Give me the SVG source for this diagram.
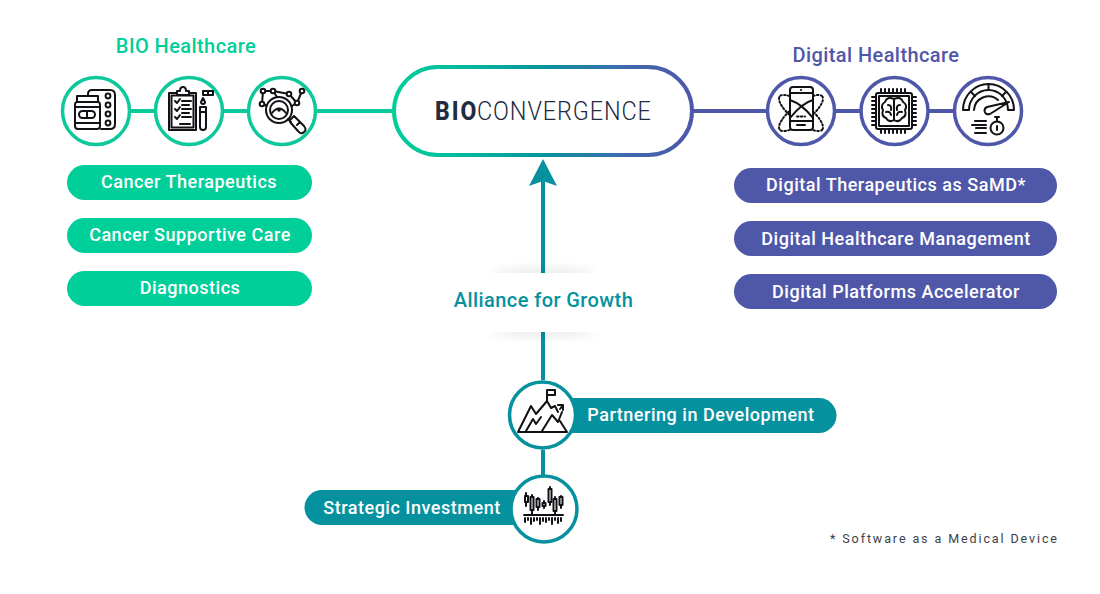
<svg xmlns="http://www.w3.org/2000/svg" width="1100" height="594" viewBox="0 0 1100 594">
<style>
.t{font-family:Roboto,"Liberation Sans",sans-serif;font-weight:500;text-anchor:middle}
.w{fill:#fff;font-size:18px;letter-spacing:.52px}
.h{font-size:20px;letter-spacing:.42px}
.ring{fill:#fff;stroke-width:3.500}
.g{stroke:#0cc89a}.p{stroke:#4f57a9}.c{stroke:#06919f}
.pg{fill:#00cf99}.pp{fill:#4f57a9}.pc{fill:#06919f}
.i{fill:none;stroke:#111116;stroke-width:2;stroke-linecap:round;stroke-linejoin:round}
.f{fill:#fff}
.d{stroke-dasharray:1.600 2.200}
.b{fill:#111116;stroke:none}
</style>
<defs>
<linearGradient id="grad" x1="394" y1="0" x2="692" y2="0" gradientUnits="userSpaceOnUse"><stop offset="0" stop-color="#00cf99"/><stop offset=".22" stop-color="#03bb9c"/><stop offset=".5" stop-color="#07949f"/><stop offset=".75" stop-color="#3a6dac"/><stop offset="1" stop-color="#4f57a9"/></linearGradient>
<filter id="blur" x="-20%" y="-60%" width="140%" height="220%"><feGaussianBlur stdDeviation="6"/></filter>
</defs>

<g id="connectors" fill="none" stroke-width="4">
<path class="g" d="M130 111H155M223 111H248M316 111H394"/>
<path class="p" d="M692 111H767M835 111H860M928 111H954"/>
<path class="c" d="M543 380V178M543 450V476"/>
<polygon points="543,159 557,186 543,181 529,186" fill="#06919f" stroke="none"/>
</g>

<g id="center">
<rect x="394" y="67" width="298" height="88" rx="44" fill="#fff" stroke="url(#grad)" stroke-width="4"/>
<text transform="translate(435 120) scale(.9 1)" font-family="Roboto,sans-serif" font-size="25.500" font-weight="800" fill="#232b3e" textLength="46" lengthAdjust="spacing">BIO</text>
<text transform="translate(477 120) scale(.92 1)" font-family="Roboto,sans-serif" font-size="25.500" font-weight="300" fill="#232b3e" textLength="189" lengthAdjust="spacing">CONVERGENCE</text>
</g>

<g id="bio-title"><text class="t h" x="186" y="53" fill="#00cf99">BIO Healthcare</text></g>
<g id="digital-title"><text class="t h" x="876" y="62" fill="#4f57a9">Digital Healthcare</text></g>

<g id="bio-icon-1">
<circle class="ring g" cx="96" cy="111" r="33.500"/>
<path class="i" d="M88 96V94Q88 90 92 90H110Q115 90 115 95V124Q115 129 110 129H101"/>
<path class="i f" d="M77 96H98V102H77ZM75 105Q75 102 77 102H98Q100 102 100 105V126Q100 129 97 129H78Q75 129 75 126ZM75 107H100M75 123H100"/>
<rect class="i" x="79" y="111" width="16" height="7" rx="3.500"/><path class="i" d="M87 111V118"/>
<circle class="i" cx="108" cy="96" r="2.400"/><circle class="i" cx="108" cy="105" r="2.400"/><circle class="i" cx="108" cy="114" r="2.400"/><circle class="i" cx="108" cy="123" r="2.400"/>
</g>

<g id="bio-icon-2">
<circle class="ring g" cx="189" cy="111" r="33.500"/>
<path class="i" d="M169 93H196V130H169Z"/><path class="i" d="M171.500 95.500H193.500V127.500H171.500Z" stroke-width="1.200"/>
<path class="i f" d="M177 95V91H180Q180 87 183 87Q186 87 186 91H189V95Z"/>
<path class="i" d="M175 101L177 103L180 99M175 109L177 111L180 107M175 117L177 119L180 115M182 101H191M182 105H189M182 109H191M182 113H189M182 117H191M180 124H190" stroke-width="1.600"/>
<path class="i" d="M200 107H206V127Q206 130 203 130Q200 130 200 127ZM201 112H205M203 98L205 102Q205 104 203 104Q201 104 201 102ZM203 91H213V95H203ZM208 91V95"/>
</g>

<g id="bio-icon-3">
<circle class="ring g" cx="282" cy="111" r="33.500"/>
<path class="i" d="M263 91H273L289 94L297 103L302 91M263 91L262 104L270 107M273 91L277 97M297 103L292 106"/>
<circle class="i f" cx="279" cy="110" r="13" stroke-width="2.200"/><circle class="i" cx="279" cy="110" r="9"/>
<path class="i" d="M272 113Q279 104 286 113" />
<circle cx="279" cy="110" r="1.800" class="b"/>
<circle class="i f" cx="263" cy="91" r="2.300"/><circle class="i f" cx="273" cy="91" r="2.300"/><circle class="i f" cx="289" cy="94" r="2.300"/><circle class="i f" cx="302" cy="91" r="2.300"/><circle class="i f" cx="262" cy="104" r="2.300"/><circle class="i f" cx="297" cy="103" r="2.300"/>
<path class="i" d="M288 119L291 122M290 120L294 116L304 126Q307 130 304 132Q301 135 298 131L290 122ZM297 125L300 122"/>
</g>

<g id="digital-icon-1">
<circle class="ring p" cx="801" cy="111" r="33.500"/>
<ellipse class="i d" cx="801" cy="113" rx="27" ry="9" transform="rotate(-38 801 113)"/>
<ellipse class="i d" cx="801" cy="113" rx="27" ry="9" transform="rotate(38 801 113)"/>
<rect class="i f" x="790" y="87" width="23" height="43" rx="3"/>
<path class="i" d="M790 121H813M797 125H805M790 100Q802 104 813 118M813 100Q802 103 790 118M790 93H813" stroke-width="1.500"/>
<circle class="b" cx="801" cy="90" r="1.100"/>
<path class="i d" d="M797 116.500H805" stroke-width="2"/>
</g>

<g id="digital-icon-2">
<circle class="ring p" cx="894.500" cy="111" r="33.500"/>
<rect class="i" x="876" y="93" width="36" height="36" rx="2" />
<rect class="i" x="879" y="96" width="30" height="30" stroke-width="1.500"/>
<path class="i" d="M881 89V92M885 89V92M889 89V92M893 89V92M897 89V92M901 89V92M905 89V92M881 130V133M885 130V133M889 130V133M893 130V133M897 130V133M901 130V133M905 130V133M872 97H875M872 101H875M872 105H875M872 109H875M872 113H875M872 117H875M872 121H875M872 125H875M913 97H916M913 101H916M913 105H916M913 109H916M913 113H916M913 117H916M913 121H916M913 125H916" stroke-width="1.600"/>
<path class="i" d="M894 99Q887 96 885 102Q880 105 883 110Q881 116 886 118Q889 123 894 120Q899 123 902 118Q907 116 905 110Q908 105 903 102Q901 96 894 99ZM894 99V120M888 105Q892 105 891 110M900 105Q896 105 897 110M886 112Q890 111 891 115M902 112Q898 111 897 115" stroke-width="1.300"/>
</g>

<g id="digital-icon-3">
<circle class="ring p" cx="988" cy="111" r="33.500"/>
<path class="i" d="M963 110A25.500 26 0 0 1 1014 110H1008A19.500 20 0 0 0 969 110Z"/>
<path class="i" d="M974 110A14.500 14.500 0 0 1 998 100"/>
<path class="i" d="M988.500 84V90M971 92L975 96M1006 92L1002 96"/>
<path class="i f" d="M987 107L1009 102L990 114Q985 115 984.500 111Q984.500 108 987 107Z"/>
<circle class="i" cx="997" cy="128" r="6.500" stroke-width="2.300"/>
<path class="i" d="M995 117H999M997 117V121M997 126V130"/>
<path class="i" d="M975 121H986M972 125H986M976 128H986M975 133H986" stroke-width="1.600"/>
</g>

<g id="cancer-therapeutics"><rect class="pg" x="67" y="165" width="245" height="35" rx="17.500"/><text class="t w" x="189" y="188">Cancer Therapeutics</text></g>
<g id="cancer-supportive"><rect class="pg" x="67" y="218" width="245" height="35" rx="17.500"/><text class="t w" x="190" y="241">Cancer Supportive Care</text></g>
<g id="diagnostics"><rect class="pg" x="67" y="271" width="245" height="35" rx="17.500"/><text class="t w" x="190" y="294">Diagnostics</text></g>

<g id="digital-therapeutics"><rect class="pp" x="734" y="168" width="323" height="35" rx="17.500"/><text class="t w" x="896" y="191">Digital Therapeutics as SaMD*</text></g>
<g id="digital-management"><rect class="pp" x="734" y="221" width="323" height="35" rx="17.500"/><text class="t w" x="896" y="245">Digital Healthcare Management</text></g>
<g id="digital-platforms"><rect class="pp" x="734" y="274" width="323" height="35" rx="17.500"/><text class="t w" x="896" y="298">Digital Platforms Accelerator</text></g>

<g id="alliance">
<ellipse cx="543" cy="274" rx="52" ry="5" fill="#000" opacity=".1" filter="url(#blur)"/>
<ellipse cx="543" cy="331" rx="52" ry="5" fill="#000" opacity=".1" filter="url(#blur)"/>
<rect x="445" y="273" width="196" height="59" fill="#fff"/>
<text class="t h" x="543.500" y="307" fill="#06919f">Alliance for Growth</text>
</g>

<g id="partnering">
<path class="pc" d="M540 398H819A17.500 17.500 0 0 1 819 433H540Z"/>
<circle class="ring c" cx="542.500" cy="415" r="33"/>
<path class="i" d="M518 432H567L560 421M518 432L531 406L536 414L547 401L551 408L555 406L558 412M526 431L533 419L536 424L541 417M542 431L552 415L558 422L562 412M547 401V390H555V395H547M558 405H563V410M563 405L560 409" stroke-width="1.900"/>
<text class="t w" x="701" y="421">Partnering in Development</text>
</g>

<g id="strategic">
<path class="pc" d="M545 490H322A17.500 17.500 0 0 0 322 525H545Z"/>
<circle class="ring c" cx="544" cy="509" r="33"/>
<path class="i" d="M526 493V496M526 502V506M532 495V497M532 510V514M538 498V499M538 507V510M544 501V503M544 506V508M550 487V489M550 502V505M555 497V499M555 511V514M561 496V497M561 505V508M524 515H563" stroke-width="1.500"/>
<rect class="i" x="525" y="496" width="3" height="6" stroke-width="1.500"/><rect class="i" x="530.500" y="497" width="3" height="13" stroke-width="1.500"/><rect class="i" x="536.500" y="499" width="3" height="8" stroke-width="1.500"/><rect class="i" x="542.500" y="503" width="3" height="3" stroke-width="1.500"/><rect class="i" x="548.500" y="489" width="3" height="13" stroke-width="1.500"/><rect class="i" x="553.500" y="499" width="3" height="12" stroke-width="1.500"/><rect class="i" x="559.500" y="497" width="3" height="8" stroke-width="1.500"/>
<path class="i" d="M525 518V522M528 518V520M531 518V524M534 518V521M537 518V520M540 518V524M543 518V521M546 518V522M549 518V520M552 518V524M555 518V520M558 518V523M561 518V521" stroke-width="1.200"/>
<text class="t w" x="412" y="514">Strategic Investment</text>
</g>

<g id="footnote"><text x="830" y="543" font-family="Roboto,sans-serif" font-size="12.500" letter-spacing="1.900" fill="#3b3f4a">* Software as a Medical Device</text></g>
</svg>
